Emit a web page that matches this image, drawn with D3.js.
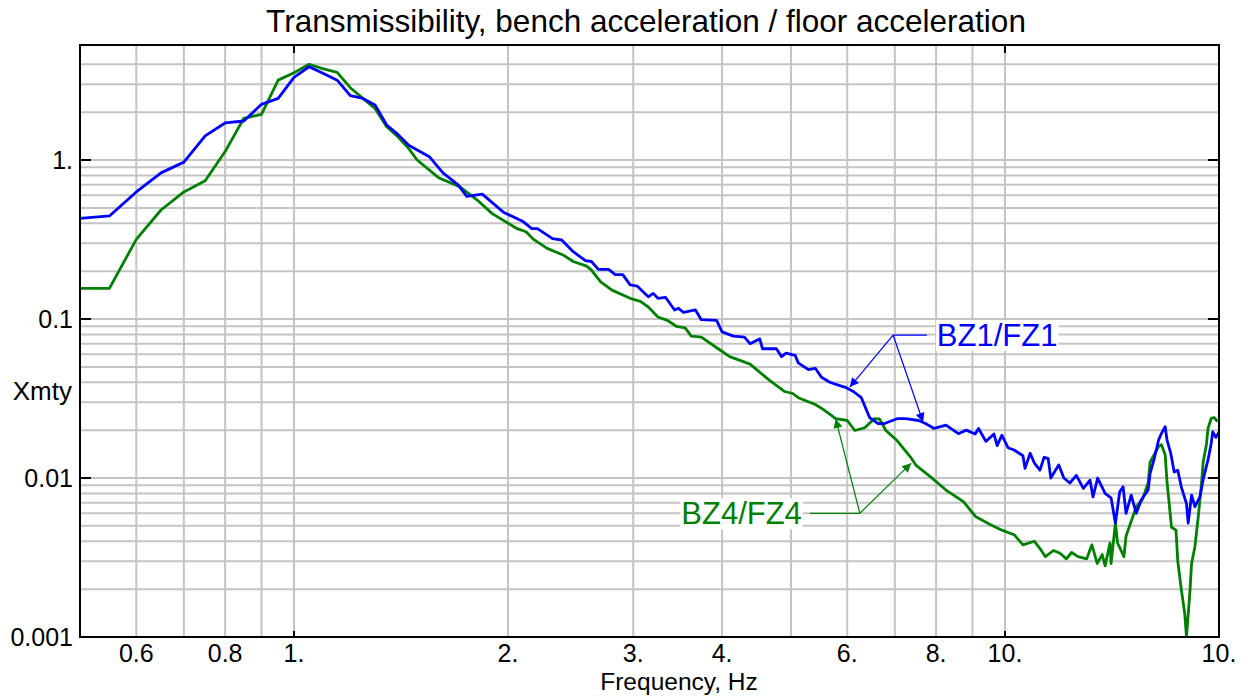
<!DOCTYPE html>
<html>
<head>
<meta charset="utf-8">
<script src="https://cdn.jsdelivr.net/npm/d3@7"></script>
<style>
  body { margin: 0; background: #fff; }
  text { font-family: "Liberation Sans", Arial, sans-serif; }
</style>
</head>
<body>
<div id="svg-div"></div>
<script>
// frequency (Hz) and transmissibility
var blueFreq = [0.5, 0.55, 0.6, 0.65, 0.7, 0.75, 0.8, 0.85, 0.9, 0.95, 1.0, 1.05, 1.1, 1.15, 1.2, 1.25, 1.3, 1.35, 1.4, 1.45,
  1.55, 1.62, 1.7, 1.75, 1.84, 1.97, 2.1, 2.16, 2.2, 2.31, 2.38, 2.47, 2.57, 2.62, 2.68, 2.77, 2.83, 2.9, 2.97, 3.04,
  3.15, 3.2, 3.25, 3.33, 3.43, 3.47, 3.53, 3.67, 3.74, 3.93, 4.0, 4.15, 4.3, 4.38, 4.52, 4.56, 4.77, 4.85, 4.92, 5.07,
  5.12, 5.29, 5.41, 5.52, 5.67, 5.87, 5.98, 6.12, 6.28, 6.45, 6.63, 6.77, 7.05, 7.25, 7.56, 7.73, 7.95, 8.26, 8.6, 8.82,
  9.08, 9.18, 9.4, 9.65, 9.75, 9.9, 10.1, 10.3, 10.6, 10.67, 10.85, 11.0, 11.2, 11.35, 11.5, 11.6, 11.9, 12.1, 12.34, 12.6, 12.89, 13.17,
  13.3, 13.5, 13.83, 14.1, 14.3, 14.5, 14.66, 14.8, 15.05, 15.3, 15.55, 15.9, 16.0, 16.2, 16.45, 16.6, 16.8, 16.9, 17.1, 17.3,
  17.5, 17.7, 18.0, 18.1, 18.3, 18.5, 18.8, 19.0, 19.3, 19.5, 19.6, 19.8, 20.0];
var blueVal = [0.43, 0.445, 0.63, 0.83, 0.97, 1.42, 1.71, 1.76, 2.24, 2.44, 3.31, 3.86, 3.5, 3.18, 2.54, 2.44, 2.22, 1.66, 1.45, 1.24,
  1.05, 0.83, 0.70, 0.59, 0.61, 0.47, 0.41, 0.37, 0.37, 0.32, 0.314, 0.265, 0.233, 0.23, 0.205, 0.205, 0.19, 0.19, 0.164, 0.161,
  0.138, 0.145, 0.135, 0.137, 0.114, 0.117, 0.11, 0.114, 0.099, 0.098, 0.083, 0.078, 0.077, 0.07, 0.075, 0.065, 0.065, 0.058, 0.061, 0.059,
  0.053, 0.048, 0.049, 0.043, 0.040, 0.038, 0.037, 0.035, 0.032, 0.024, 0.022, 0.022, 0.0236, 0.0236, 0.023, 0.022, 0.0205, 0.0215, 0.019, 0.020,
  0.0189, 0.0205, 0.017, 0.0189, 0.016, 0.0186, 0.0155, 0.015, 0.0138, 0.0115, 0.0143, 0.0124, 0.0112, 0.0135, 0.0133, 0.010, 0.0121, 0.010, 0.0093, 0.0104, 0.0086, 0.0097,
  0.0076, 0.0100, 0.0080, 0.0075, 0.0052, 0.0082, 0.0088, 0.0060, 0.0078, 0.0060, 0.0073, 0.0084, 0.0107, 0.013, 0.0174, 0.0191, 0.021, 0.0174, 0.0144, 0.0109,
  0.0112, 0.0088, 0.0069, 0.0052, 0.0078, 0.0066, 0.0076, 0.0098, 0.013, 0.0165, 0.0195, 0.018, 0.0195];

var greenFreq = [0.5, 0.55, 0.6, 0.65, 0.7, 0.75, 0.8, 0.85, 0.9, 0.95, 1.0, 1.05, 1.1, 1.15, 1.2, 1.25, 1.3, 1.35, 1.4, 1.45,
  1.49, 1.6, 1.71, 1.81, 1.9, 2.06, 2.12, 2.17, 2.27, 2.39, 2.47, 2.58, 2.62, 2.7, 2.8, 2.97, 3.07, 3.15, 3.25, 3.35,
  3.45, 3.55, 3.62, 3.74, 3.95, 4.1, 4.38, 4.5, 4.67, 4.9, 5.03, 5.12, 5.41, 5.55, 5.78, 6.0, 6.15, 6.35, 6.55, 6.66,
  6.8, 7.05, 7.36, 7.5, 7.85, 8.26, 8.74, 9.1, 9.53, 9.9, 10.3, 10.6, 11.0, 11.2, 11.4, 11.7, 11.95, 12.2, 12.41, 12.67, 13.03, 13.25,
  13.48, 13.7, 13.83, 14.05, 14.1, 14.3, 14.4, 14.7, 14.8, 14.95, 15.3, 15.6, 15.9, 16.0, 16.45, 16.6, 16.8, 16.9, 17.15, 17.4,
  17.5, 17.7, 17.9, 18.0, 18.2, 18.3, 18.5, 18.7, 18.9, 19.0, 19.2, 19.3, 19.5, 19.7, 19.9];
var greenVal = [0.156, 0.156, 0.317, 0.485, 0.63, 0.74, 1.13, 1.83, 1.94, 3.18, 3.54, 4.0, 3.74, 3.56, 2.85, 2.44, 2.11, 1.62, 1.40, 1.18,
  1.0, 0.77, 0.68, 0.56, 0.46, 0.37, 0.354, 0.318, 0.278, 0.253, 0.23, 0.215, 0.203, 0.171, 0.152, 0.135, 0.129, 0.119, 0.103, 0.098,
  0.090, 0.088, 0.078, 0.077, 0.065, 0.058, 0.052, 0.047, 0.041, 0.035, 0.034, 0.032, 0.029, 0.027, 0.0236, 0.023, 0.0199, 0.0207, 0.0236, 0.0235,
  0.0199, 0.0172, 0.0136, 0.012, 0.0102, 0.0084, 0.0071, 0.0057, 0.0051, 0.0047, 0.0044, 0.0038, 0.0040, 0.0036, 0.0032, 0.0035, 0.00336, 0.0031, 0.0034, 0.0032, 0.0031, 0.0038,
  0.0029, 0.0033, 0.0028, 0.0039, 0.0029, 0.0052, 0.0039, 0.0032, 0.0043, 0.0049, 0.0066, 0.0073, 0.0093, 0.0126, 0.0158, 0.0162, 0.0140, 0.0095, 0.0049, 0.0047,
  0.0030, 0.0020, 0.0014, 0.001, 0.0019, 0.0029, 0.0037, 0.0057, 0.0093, 0.0126, 0.0162, 0.0205, 0.0237, 0.024, 0.0226];

var xTickVals = [0.6, 0.8, 1, 2, 3, 4, 6, 8, 10, 20];
var xTickText = ["0.6", "0.8", "1.", "2.", "3.", "4.", "6.", "8.", "10.", "10."];
var xGridVals = [0.6, 0.7, 0.8, 0.9, 1, 2, 3, 4, 5, 6, 7, 8, 9, 10];
var yTickVals = [0.001, 0.01, 0.1, 1];
var yTickText = ["0.001", "0.01", "0.1", "1."];

// callouts: label, colour, elbow point, arrow targets (all in data units)
var callouts = [
  { label: "BZ1/FZ1", color: "#0000ff", textF: 8.02, textV: 0.0793, anchor: "start",
    elbow: [6.96, 0.0793], targets: [[6.05, 0.0373], [7.67, 0.0225]] },
  { label: "BZ4/FZ4", color: "#008000", textF: 5.18, textV: 0.006, anchor: "end",
    elbow: [6.25, 0.006], targets: [[5.78, 0.0235], [7.38, 0.0124]] }
];

var width = 1252;
var height = 698;
var plotLeft = 80, plotRight = 1219, plotTop = 45, plotBottom = 637;

var svg = d3.select("#svg-div").append("svg")
  .attr("width", width).attr("height", height);

var x = d3.scaleLog().domain([0.5, 20]).range([plotLeft, plotRight]);
var y = d3.scaleLog().domain([0.001, 5.29]).range([plotBottom, plotTop]);

// y grid values: 1..9 in each decade
var yGridVals = [];
[0.001, 0.01, 0.1, 1].forEach(function(d) {
  for (var k = 1; k <= 9; k++) {
    var v = d * k;
    if (v < 4.8) yGridVals.push(v);
  }
});

var grid = svg.append("g");
grid.selectAll(".gx").data(xGridVals).enter().append("line")
  .attr("x1", function(d) { return x(d); }).attr("x2", function(d) { return x(d); })
  .attr("y1", plotTop).attr("y2", plotBottom)
  .style("stroke", "#c4c4c4").style("stroke-width", 2);
grid.selectAll(".gy").data(yGridVals).enter().append("line")
  .attr("x1", plotLeft).attr("x2", plotRight)
  .attr("y1", function(d) { return y(d); }).attr("y2", function(d) { return y(d); })
  .style("stroke", "#c4c4c4").style("stroke-width", 2);

// curves
svg.append("clipPath").attr("id", "clip").append("rect")
  .attr("x", plotLeft).attr("y", plotTop)
  .attr("width", plotRight - plotLeft).attr("height", plotBottom - plotTop);

var line = d3.line()
  .x(function(d) { return x(d[0]); })
  .y(function(d) { return y(d[1]); });

var greenData = d3.zip(greenFreq, greenVal);
var blueData = d3.zip(blueFreq, blueVal);

svg.append("path").datum(greenData)
  .attr("d", line).attr("clip-path", "url(#clip)")
  .style("fill", "none").style("stroke", "#008000").style("stroke-width", 2.8)
  .style("stroke-linejoin", "round");
svg.append("path").datum(blueData)
  .attr("d", line).attr("clip-path", "url(#clip)")
  .style("fill", "none").style("stroke", "#0000ff").style("stroke-width", 2.8)
  .style("stroke-linejoin", "round");

// frame
svg.append("rect")
  .attr("x", plotLeft).attr("y", plotTop)
  .attr("width", plotRight - plotLeft).attr("height", plotBottom - plotTop)
  .style("fill", "none").style("stroke", "#000").style("stroke-width", 2);

// major ticks
yTickVals.forEach(function(v) {
  svg.append("line").attr("x1", plotLeft).attr("x2", plotLeft + 11)
    .attr("y1", y(v)).attr("y2", y(v)).style("stroke", "#000").style("stroke-width", 2);
  svg.append("line").attr("x1", plotRight - 11).attr("x2", plotRight)
    .attr("y1", y(v)).attr("y2", y(v)).style("stroke", "#000").style("stroke-width", 2);
});
[1, 10].forEach(function(f) {
  svg.append("line").attr("x1", x(f)).attr("x2", x(f))
    .attr("y1", plotBottom).attr("y2", plotBottom - 6).style("stroke", "#000").style("stroke-width", 2);
  svg.append("line").attr("x1", x(f)).attr("x2", x(f))
    .attr("y1", plotTop).attr("y2", plotTop + 8).style("stroke", "#000").style("stroke-width", 2);
});

// tick labels
svg.selectAll(".xl").data(xTickVals).enter().append("text")
  .attr("x", function(d) { return x(d); }).attr("y", 662)
  .attr("text-anchor", "middle").style("font-size", "25px")
  .text(function(d, i) { return xTickText[i]; });
svg.selectAll(".yl").data(yTickVals).enter().append("text")
  .attr("x", 73).attr("y", function(d) { return y(d) + 9; })
  .attr("text-anchor", "end").style("font-size", "25px")
  .text(function(d, i) { return yTickText[i]; });

// titles
svg.append("text").attr("x", 646).attr("y", 32).attr("text-anchor", "middle")
  .style("font-size", "31.5px").text("Transmissibility, bench acceleration / floor acceleration");
svg.append("text").attr("x", 679).attr("y", 690).attr("text-anchor", "middle")
  .style("font-size", "24.5px").text("Frequency, Hz");
svg.append("text").attr("x", 72).attr("y", 400).attr("text-anchor", "end")
  .style("font-size", "26px").text("Xmty");

// callouts
var defs = svg.append("defs");
callouts.forEach(function(c, i) {
  defs.append("marker").attr("id", "arrow" + i)
    .attr("viewBox", "0 0 10 10").attr("refX", 10).attr("refY", 5)
    .attr("markerWidth", 16).attr("markerHeight", 9).attr("markerUnits", "userSpaceOnUse")
    .attr("orient", "auto")
    .append("path").attr("d", "M0,0 L10,5 L0,10 z").style("fill", c.color);

  var ex = x(c.elbow[0]), ey = y(c.elbow[1]);
  var tx = x(c.textF), ty = y(c.textV);
  var lineEnd = c.anchor === "start" ? tx - 10 : tx + 8;
  svg.append("line").attr("x1", lineEnd).attr("y1", ey).attr("x2", ex).attr("y2", ey)
    .style("stroke", c.color).style("stroke-width", 1.2);
  c.targets.forEach(function(t) {
    svg.append("line").attr("x1", ex).attr("y1", ey)
      .attr("x2", x(t[0])).attr("y2", y(t[1]))
      .style("stroke", c.color).style("stroke-width", 1.2)
      .attr("marker-end", "url(#arrow" + i + ")");
  });
  var txt = svg.append("text").attr("x", tx).attr("y", ty + 11)
    .attr("text-anchor", c.anchor).style("font-size", "31px")
    .style("fill", c.color).text(c.label);
  var bb = txt.node().getBBox();
  svg.insert("rect", function() { return txt.node(); })
    .attr("x", bb.x - 1).attr("y", bb.y + 2).attr("width", bb.width + 2).attr("height", bb.height - 4)
    .style("fill", "#fff");
});
</script>
</body>
</html>
